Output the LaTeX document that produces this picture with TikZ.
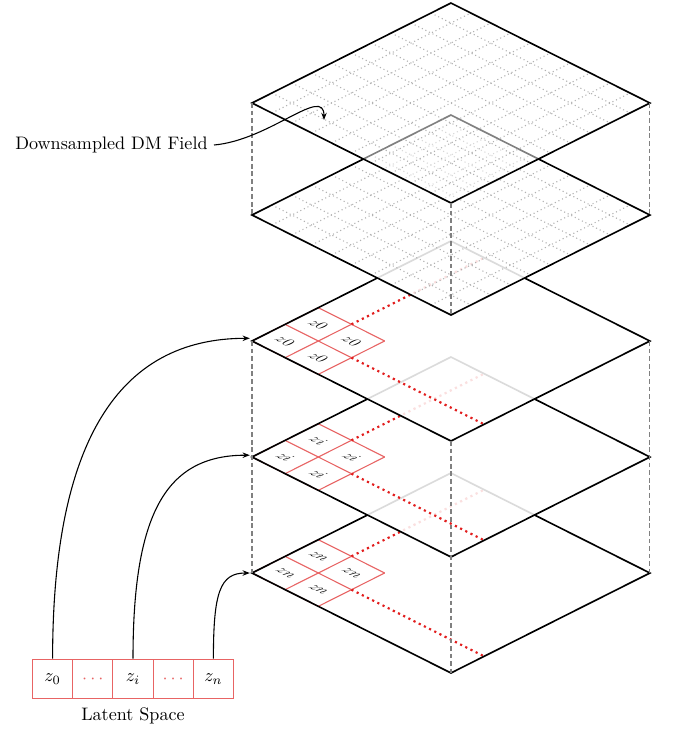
\documentclass[tikz,border=0pt]{standalone}
\usetikzlibrary{arrows.meta}
\definecolor{cellred}{RGB}{232,100,100}
\definecolor{tracered}{RGB}{226,30,30}
\newcommand\celltags[2]{%
  \node[celltag] (#1a) at (0.5,0.5) {#2};
  \node[celltag] (#1b) at (1.5,0.5) {#2};
  \node[celltag] (#1c) at (0.5,1.5) {#2};
  \node[celltag] (#1d) at (1.5,1.5) {#2};}
\newcommand\sheetcorners[1]{%
  \coordinate (L#1) at (0,0);
  \coordinate (B#1) at (6,0);
  \coordinate (R#1) at (6,6);
  \coordinate (T#1) at (0,6);}
\newcommand\sheetpath{(0,0) -- (6,0) -- (6,6) -- (0,6) -- cycle}
\newcommand\finegrid{%
  \foreach \k in {0.6,1.2,...,5.5} {
    \draw[gridline] (\k,0) -- (\k,6);
    \draw[gridline] (0,\k) -- (6,\k);}}
\newcommand\redcells{%
  \foreach \k in {0,1,2} {
    \draw[cellline] (\k,0) -- (\k,2);
    \draw[cellline] (0,\k) -- (2,\k);}
  \draw[trace] (1,2) -- (1,6);
  \draw[trace] (2,1) -- (6,1);}
\begin{document}
\begin{tikzpicture}[x=0.01942cm, y=0.01942cm,
  plane/.style={shift={(252,-#1)}, x=1cm, y=1cm,
    cm={0.6441,-0.3237,0.6441,0.3237,(0,0)}},
  edge/.style={draw=black, line width=0.9pt, line join=miter},
  gridline/.style={gray!60, dash pattern=on 0.6pt off 1.6pt, line width=0.6pt},
  cellline/.style={cellred, line width=0.6pt},
  trace/.style={tracered, dotted, line width=1.2pt},
  guide/.style={gray, dash pattern=on 2.6pt off 1.6pt, line width=0.6pt},
  link/.style={line width=0.6pt, -{Stealth[length=4pt,width=3pt]}},
  latent/.style={draw=cellred, line width=0.5pt, minimum width=22.2pt,
    minimum height=22pt, inner sep=0pt},
  celltag/.style={transform shape, font=\fontsize{12.5}{14}\selectfont, inner sep=0pt}
]
\useasboundingbox (0,0) rectangle (673,-732);

% bottom sheet: z_n
\begin{scope}[plane=573]
  \fill[white, fill opacity=0.86] \sheetpath;
  \redcells
  \celltags{n}{$zn$}
  \draw[edge] \sheetpath;
  \sheetcorners{5}
\end{scope}

% middle sheet: z_i
\begin{scope}[plane=457]
  \fill[white, fill opacity=0.86] \sheetpath;
  \redcells
  \celltags{i}{$zi$}
  \draw[edge] \sheetpath;
  \sheetcorners{4}
\end{scope}

% upper sheet: z_0
\begin{scope}[plane=341]
  \fill[white, fill opacity=0.86] \sheetpath;
  \redcells
  \celltags{o}{$z0$}
  \draw[edge] \sheetpath;
  \sheetcorners{3}
\end{scope}

% downsampled field, lower grid
\begin{scope}[plane=215]
  \fill[white, fill opacity=0.86] \sheetpath;
  \finegrid
  \draw[edge] \sheetpath;
  \sheetcorners{2}
\end{scope}

% downsampled field, upper grid
\begin{scope}[plane=103]
  \fill[white, fill opacity=0.5] \sheetpath;
  \finegrid
  \draw[edge] \sheetpath;
  \sheetcorners{1}
\end{scope}

% vertical guides between the sheets
\draw[guide] (L1) -- (L2);
\draw[guide] (R1) -- (R2);
\draw[guide] (B1) -- (B2);
\draw[guide] (L3) -- (L5);
\draw[guide] (R3) -- (R5);
\draw[guide] (B3) -- (B5);

% field label
\node[anchor=east] (dm) at (214,-145) {Downsampled DM Field};
\coordinate (dmtip) at (324,-120);
\draw[link] (dm.east) .. controls (270,-140) and (324,-85) .. (dmtip);

% latent vector
\node[latent] (b0) at (52.6,-679) {$z_0$};
\node[latent] (b1) at (92.8,-679) {\color{cellred}$\cdots$};
\node[latent] (b2) at (133,-679) {$z_i$};
\node[latent] (b3) at (173.2,-679) {\color{cellred}$\cdots$};
\node[latent] (b4) at (213.4,-679) {$z_n$};
\node (ls) at (133,-716) {Latent Space};

% latent entries feeding the sheets
\coordinate (t3) at ([shift={(-1.2pt,1.5pt)}]L3);
\coordinate (t4) at ([shift={(-1.2pt,1pt)}]L4);
\coordinate (t5) at ([shift={(-1.2pt,0pt)}]L5);
\draw[link] (b0.north) .. controls +(0,216) and +(-132,0) .. (t3);
\draw[link] (b2.north) .. controls +(0,145) and +(-84,0) .. (t4);
\draw[link] (b4.north) .. controls +(0,66) and +(-30,0) .. (t5);
\end{tikzpicture}
\end{document}
